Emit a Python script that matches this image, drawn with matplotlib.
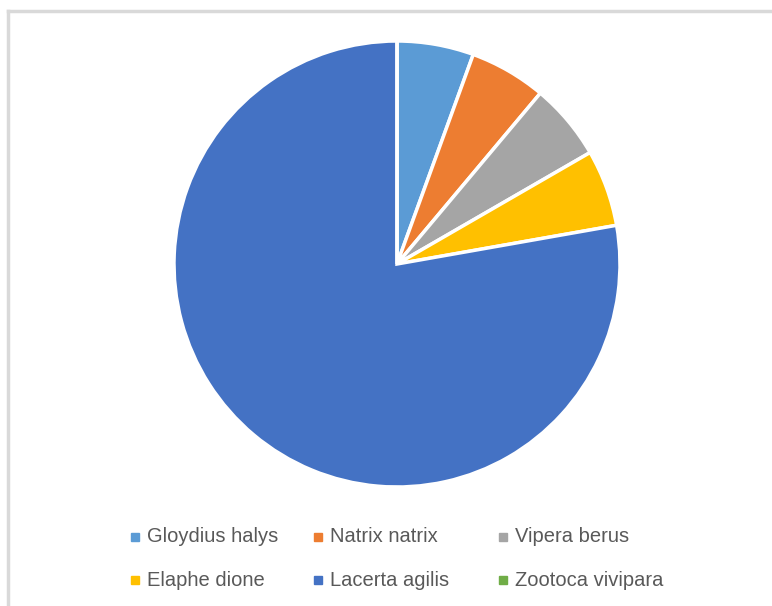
import matplotlib.pyplot as plt
from matplotlib.lines import Line2D

species = ['Gloydius halys', 'Natrix natrix', 'Vipera berus',
           'Elaphe dione', 'Lacerta agilis', 'Zootoca vivipara']
counts = [1, 1, 1, 1, 14, 0]
colors = ['#5b9bd5', '#ed7d31', '#a5a5a5', '#ffc000', '#4472c4', '#70ad47']

W, H = 772, 606
fig = plt.figure(figsize=(W / 100, H / 100), dpi=100)

# pie centre / radius in pixels
cx, cy, r = 397, 264, 223
ax = fig.add_axes([(cx - r) / W, (H - cy - r) / H, 2 * r / W, 2 * r / H])
ax.pie(counts, colors=colors, startangle=90, counterclock=False,
       wedgeprops=dict(edgecolor='white', linewidth=2.5))
ax.set_xlim(-1, 1)
ax.set_ylim(-1, 1)
ax.set_aspect('equal')

# light frame, only top and left visible
fig.add_artist(Line2D([8 / W, 8 / W], [0, 1 - 11 / H], color='#d9d9d9', lw=2.5))
fig.add_artist(Line2D([8 / W, 1], [1 - 11 / H, 1 - 11 / H], color='#d9d9d9', lw=2.5))

# legend laid out in two rows of three
col_x = [135, 318, 503]
row_y = [537, 580]
for i, (name, c) in enumerate(zip(species, colors)):
    x = col_x[i % 3]
    y = row_y[i // 3]
    fig.add_artist(Line2D([x / W], [1 - y / H], marker='s', markersize=5.5,
                          color=c, linestyle='none'))
    fig.text((x + 12) / W, 1 - y / H, name, fontsize=14.5, color='#595959',
             family='Liberation Sans', va='center', ha='left')

fig.savefig('out.png', dpi=100)
